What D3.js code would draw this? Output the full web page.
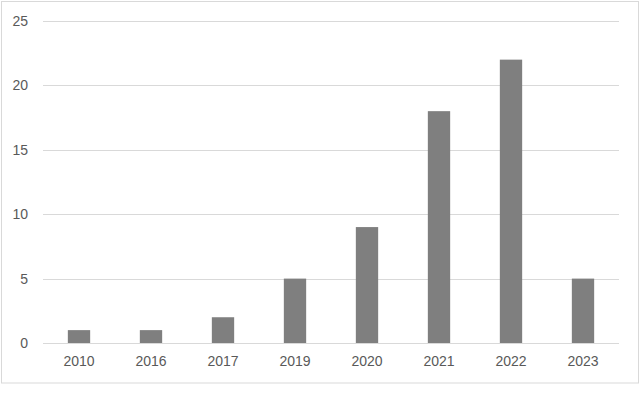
<!DOCTYPE html>
<html>
<head>
<meta charset="utf-8">
<script src="https://cdn.jsdelivr.net/npm/d3@7"></script>
<style>
  body { margin: 0; background: #fff; }
  svg text { font-family: "Liberation Sans", Arial, sans-serif; fill: #595959; }
</style>
</head>
<body>
<div id="chart"></div>
<script>
// data
var years = ["2010", "2016", "2017", "2019", "2020", "2021", "2022", "2023"];
var counts = [1, 1, 2, 5, 9, 18, 22, 5];
var yTicks = [0, 5, 10, 15, 20, 25];

var W = 640, H = 406;
var margin = {top: 21, right: 21, bottom: 63, left: 43},
    width = W - margin.left - margin.right,
    height = H - margin.top - margin.bottom;

var svg = d3.select("#chart").append("svg")
    .attr("width", W)
    .attr("height", H);

// outer chart border
svg.append("rect")
    .attr("x", 1.5).attr("y", 1.5)
    .attr("width", W - 3).attr("height", 383 - 1.5)
    .attr("fill", "#fff")
    .attr("stroke", "#d9d9d9")
    .attr("stroke-width", 1);

var g = svg.append("g")
    .attr("transform", `translate(${margin.left},${margin.top})`);

var x = d3.scaleBand()
    .domain(years)
    .range([0, width])
    .paddingInner(0.69)
    .paddingOuter(0.345);

var y = d3.scaleLinear()
    .domain([0, 25])
    .range([height, 0]);

// gridlines
g.append("g")
    .selectAll("line")
    .data(yTicks)
    .join("line")
    .attr("x1", 0).attr("x2", width)
    .attr("y1", d => Math.round(y(d)) + 0.5)
    .attr("y2", d => Math.round(y(d)) + 0.5)
    .attr("stroke", "#d9d9d9")
    .attr("stroke-width", 1);

// bars
g.append("g")
    .selectAll("rect")
    .data(counts)
    .join("rect")
    .attr("x", (d, i) => x(years[i]))
    .attr("y", d => y(d))
    .attr("width", x.bandwidth())
    .attr("height", d => y(0) - y(d))
    .attr("fill", "#7f7f7f");

// y axis labels
var yAxis = g.append("g")
    .call(d3.axisLeft(y).tickValues(yTicks).tickSize(0).tickPadding(15));
yAxis.select(".domain").remove();
yAxis.selectAll("text")
    .attr("font-size", 14)
    .attr("font-family", "Liberation Sans, Arial, sans-serif")
    .attr("fill", "#595959");

// x axis labels
var xAxis = g.append("g")
    .attr("transform", `translate(0,${height})`)
    .call(d3.axisBottom(x).tickSize(0).tickPadding(13));
xAxis.select(".domain").remove();
xAxis.selectAll("text")
    .attr("font-size", 14)
    .attr("font-family", "Liberation Sans, Arial, sans-serif")
    .attr("fill", "#595959");
</script>
</body>
</html>
